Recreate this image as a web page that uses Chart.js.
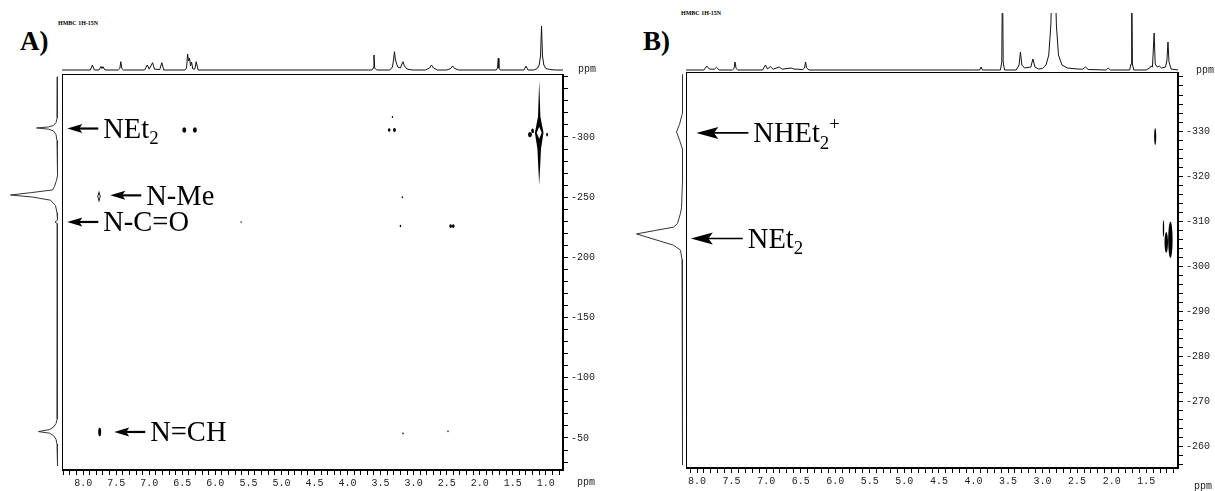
<!DOCTYPE html>
<html>
<head>
<meta charset="utf-8">
<script src="https://cdn.jsdelivr.net/npm/chart.js@4.4.0/dist/chart.umd.min.js"></script>
<style>
  html, body { margin: 0; padding: 0; background: #fff; }
  body { width: 1215px; height: 491px; position: relative; overflow: hidden; font-family: "Liberation Serif", serif; }
  canvas { position: absolute; }
  .panel { position: absolute; font-weight: bold; font-size: 27px; line-height: 1; }
  .hmbc { position: absolute; font-size: 6px; font-weight: bold; line-height: 1; white-space: nowrap; }
  .ppm { position: absolute; font-family: "Liberation Mono", monospace; font-size: 10px; color: #222; line-height: 1; }
</style>
</head>
<body>
<div class="panel" style="left:20px; top:28px;">A)</div>
<div class="hmbc" style="left:58px; top:20px;">HMBC 1H-15N</div>
<div class="panel" style="left:643px; top:28px;">B)</div>
<div class="hmbc" style="left:681px; top:10px;">HMBC 1H-15N</div>

<canvas id="topA" width="501" height="71" style="left:62px; top:0px;"></canvas>
<canvas id="projA" width="62" height="396" style="left:0px; top:74px;"></canvas>
<canvas id="mainA" width="553" height="417" style="left:62px; top:74px;"></canvas>
<div class="ppm" style="left:578px; top:65px;">ppm</div>
<div class="ppm" style="left:577px; top:478px;">ppm</div>

<canvas id="topB" width="492" height="58" style="left:686px; top:13px;"></canvas>
<canvas id="projB" width="66" height="396" style="left:620px; top:72px;"></canvas>
<canvas id="mainB" width="529" height="419" style="left:686px; top:72px;"></canvas>
<div class="ppm" style="left:1196px; top:66px;">ppm</div>
<div class="ppm" style="left:1194px; top:482px;">ppm</div>

<script>
// 1H spectrum on top of A: [ppm, intensity]
const specA = [
  [8.32,0],[7.89,0],[7.86,5],[7.83,0],
  [7.76,0],[7.73,3.5],[7.715,1.5],[7.70,3.3],[7.67,0],
  [7.47,0],[7.445,1.5],[7.43,8.3],[7.415,1.5],[7.39,0],
  [7.07,0],[7.03,5],[7.00,0.8],[6.95,7.3],[6.92,0.8],[6.84,0.5],[6.81,7.3],[6.78,0],
  [6.46,0],[6.435,2],[6.42,16],[6.405,9],[6.39,11.7],[6.375,4],[6.36,8],[6.34,1],[6.31,1],[6.29,8.3],[6.26,0],
  [3.68,0],[3.63,0],[3.61,2],[3.60,15],[3.59,2],[3.56,0],
  [3.36,0],[3.32,3],[3.30,12],[3.29,18.3],[3.275,10],[3.24,3],[3.20,2],[3.17,7],[3.16,8.3],[3.14,4],[3.10,1],[3.02,0],
  [2.82,0],[2.76,2],[2.73,5],[2.70,2],[2.64,0],
  [2.50,0],[2.44,1.5],[2.41,4],[2.38,1.5],[2.32,0],
  [1.75,0],[1.73,2],[1.72,11.7],[1.71,2],[1.69,0],
  [1.33,0],[1.30,4],[1.27,0],
  [1.18,0],[1.13,1.5],[1.10,5],[1.08,14],[1.065,44],[1.05,14],[1.03,5],[1.00,1.5],[0.94,0.5],[0.85,0],[0.74,0]
];
// 1H spectrum on top of B (tall lines run off the top)
const specB = [
  [8.16,0],[7.90,0],[7.86,4],[7.82,0.8],[7.75,0.8],[7.72,2.7],[7.68,0],
  [7.49,0],[7.465,1.5],[7.45,8],[7.435,1.5],[7.41,0],
  [7.05,0],[7.01,5],[6.98,1],[6.94,3.5],[6.90,0.8],[6.81,3],[6.77,0.8],[6.64,2],[6.60,1],
  [6.47,0.5],[6.445,2],[6.43,8],[6.415,2],[6.38,0],
  [4.00,0],[3.91,0],[3.89,3],[3.87,0],[3.70,0],
  [3.61,0],[3.59,8],[3.58,100],[3.57,8],[3.55,0],
  [3.38,0],[3.34,5],[3.32,18],[3.30,5],[3.26,2],[3.17,3],[3.14,11],[3.11,3],[3.06,1],
  [3.00,1.5],[2.95,5],[2.91,15],[2.88,45],[2.86,100],[2.82,100],[2.80,45],[2.77,15],[2.72,5],[2.64,2],[2.50,1],
  [2.42,0.8],[2.38,3],[2.34,0.5],[2.08,0],[2.05,2],[2.02,0],
  [1.74,0],[1.72,6],[1.71,100],[1.70,6],[1.68,0],
  [1.50,0],[1.45,2],[1.43,4],[1.41,3],[1.385,37],[1.37,6],[1.34,3],[1.31,4],[1.28,2],
  [1.22,3],[1.20,10],[1.185,28],[1.17,8],[1.14,1],[1.04,0]
];
// 15N projections on the left: [ppm, intensity]
const projA = [
  [-350,0],[-321,0],[-316,0.5],[-312,1.5],[-309.5,4],[-308.3,9],[-307.5,21],[-306.5,9],[-305,4],[-302,1.5],[-297,0.5],[-293,0],
  [-268,0],[-264,1],[-259,3],[-256,5],[-253.7,27],[-251.8,47],[-250.1,25],[-247.5,7],[-243,2],[-237,0.5],[-233,0],
  [-231,0],[-229.4,2.5],[-228,0],
  [-70,0],[-66,0.5],[-62,1.5],[-59,4],[-57,8],[-55.3,19],[-54,8],[-52,4],[-49,1.5],[-45,0.5],[-40,0],[-27,0]
];
const projB = [
  [-342.5,0],[-334,0],[-331.5,3],[-329.8,6],[-328,3],[-326,0],
  [-319,0],[-313,1],[-311.8,2],[-309.5,5],[-308.7,9],[-307.2,46],[-304.7,9],[-303.6,2],[-301.5,0.5],[-299.8,0],[-256,0]
];

// cross peaks: 1H ppm, 15N ppm, half-width (1H ppm), half-height (15N ppm), shape
const peakXA = [7.76, 6.47, 6.31, 3.37, 3.29, 3.32, 3.17, 3.20, 2.44, 2.40, 5.61, 1.10, 1.24, 1.20, 0.98, 7.75, 3.16, 2.48];
const peakYA = [-250.6, -305.8, -305.8, -305.8, -305.8, -316.6, -250, -226, -226, -226, -229.4, -303.5, -302, -305, -302, -55, -53.8, -55.5];
const peakWA = [0.025, 0.03, 0.03, 0.02, 0.022, 0.008, 0.008, 0.01, 0.02, 0.02, 0.006, 0.065, 0.03, 0.02, 0.015, 0.022, 0.008, 0.008];
const peakHA = [5, 2.2, 2.2, 1.5, 1.6, 0.8, 0.8, 1, 1.6, 1.6, 0.6, 43.5, 2.2, 2, 1.6, 3.5, 0.7, 0.7];
const peakKindA = ['ring','dot','dot','dot','dot','dot','dot','dot','dot','dot','dot','spindle','dot','dot','dot','dot','dot','dot'];

const peakXB = [1.37, 1.25, 1.21, 1.15];
const peakYB = [-328.8, -308.4, -305.3, -305.9];
const peakWB = [0.015, 0.01, 0.025, 0.032];
const peakHB = [1.9, 1.9, 2.3, 4];
const peakKindB = ['dot','dot','dot','dot'];

// assignments
const labelA = ['NEt_2', 'N-Me', 'N-C=O', 'N=CH'];
const labelXA = [8.24, 7.59, 8.24, 7.53];
const labelYA = [-307, -251.5, -229.4, -55];
const labelB = ['NHEt_2^+', 'NEt_2'];
const labelXB = [8.01, 8.09];
const labelYB = [-329.6, -306.2];

// tick labels
const xLabelsA = [8.0, 7.5, 7.0, 6.5, 6.0, 5.5, 5.0, 4.5, 4.0, 3.5, 3.0, 2.5, 2.0, 1.5, 1.0];
const xLabelsB = [8.0, 7.5, 7.0, 6.5, 6.0, 5.5, 5.0, 4.5, 4.0, 3.5, 3.0, 2.5, 2.0, 1.5];
const yLabelsA = [-300, -250, -200, -150, -100, -50];
const yLabelsB = [-330, -320, -310, -300, -290, -280, -270, -260];

const tickFont = { family: 'Liberation Mono', size: 10 };
const base = {
  responsive: false, animation: false, events: [],
  layout: { padding: 0 },
  plugins: { legend: { display: false }, tooltip: { enabled: false } }
};

function lineSet(points, color) {
  return { data: points, showLine: true, pointRadius: 0, borderColor: color || '#111', borderWidth: 1, borderJoinStyle: 'round' };
}

function topChart(id, spec, xmin, xmax, ymax) {
  return new Chart(document.getElementById(id), {
    type: 'scatter',
    data: { datasets: [lineSet(spec.map(p => ({ x: p[0], y: p[1] })))] },
    options: Object.assign({}, base, {
      scales: {
        x: { type: 'linear', display: false, reverse: true, min: xmin, max: xmax },
        y: { type: 'linear', display: false, min: -1, max: ymax }
      }
    })
  });
}

function projChart(id, proj, imin, imax, ymin, ymax) {
  return new Chart(document.getElementById(id), {
    type: 'scatter',
    data: { datasets: [lineSet(proj.map(p => ({ x: p[1], y: p[0] })), '#333')] },
    options: Object.assign({}, base, {
      scales: {
        x: { type: 'linear', display: false, reverse: true, min: imin, max: imax },
        y: { type: 'linear', display: false, reverse: true, min: ymin, max: ymax }
      }
    })
  });
}

function drawRich(ctx, str, x, y, size) {
  const parts = str.match(/_[^_^]|\^[^_^]|[^_^]+/g);
  let cx = x;
  const bl = y + size * 0.33;
  parts.forEach(p => {
    let s = size, dy = 0, t = p;
    if (p[0] === '_') { s = size * 0.66; dy = size * 0.22; t = p.slice(1); }
    else if (p[0] === '^') { s = size * 0.66; dy = -size * 0.42; t = p.slice(1); }
    ctx.font = s + 'px "Liberation Serif"';
    ctx.fillText(t, cx, bl + dy);
    cx += ctx.measureText(t).width;
  });
}

function zeroPad(s) { s.paddingLeft = s.paddingRight = s.paddingTop = s.paddingBottom = 0; }

function mainChart(id, c) {
  const pts = c.px.map((x, i) => ({ x: x, y: c.py[i] }));

  const marks = {
    id: 'marks',
    afterDatasetsDraw(chart) {
      const ctx = chart.ctx, a = chart.chartArea;
      const xs = chart.scales.x, ys = chart.scales.y;
      ctx.save();
      ctx.beginPath(); ctx.rect(a.left, a.top, a.width, a.height); ctx.clip();
      chart.getDatasetMeta(0).data.forEach((el, i) => {
        const cx = el.x, cy = el.y;
        const rx = Math.max(0.7, Math.abs(xs.getPixelForValue(c.px[i] + c.pw[i]) - cx));
        const ry = Math.max(0.7, Math.abs(ys.getPixelForValue(c.py[i] + c.ph[i]) - cy));
        const kind = c.kind[i];
        ctx.fillStyle = '#000';
        if (kind === 'dot') {
          ctx.beginPath(); ctx.ellipse(cx, cy, rx, ry, 0, 0, Math.PI * 2); ctx.fill();
        } else if (kind === 'ring') {
          ctx.beginPath();
          ctx.moveTo(cx, cy - ry); ctx.lineTo(cx + rx, cy); ctx.lineTo(cx, cy + ry); ctx.lineTo(cx - rx, cy);
          ctx.closePath(); ctx.fill();
          ctx.fillStyle = '#fff';
          ctx.beginPath();
          ctx.moveTo(cx, cy - ry * 0.5); ctx.lineTo(cx + rx * 0.45, cy); ctx.lineTo(cx, cy + ry * 0.5); ctx.lineTo(cx - rx * 0.45, cy);
          ctx.closePath(); ctx.fill();
        } else if (kind === 'spindle') {
          ctx.beginPath();
          ctx.moveTo(cx, cy - ry);
          ctx.lineTo(cx + 1.2, cy - 16); ctx.lineTo(cx + rx, cy); ctx.lineTo(cx + 1.8, cy + 16);
          ctx.lineTo(cx, cy + ry);
          ctx.lineTo(cx - 1.8, cy + 16); ctx.lineTo(cx - rx, cy); ctx.lineTo(cx - 1.2, cy - 16);
          ctx.closePath(); ctx.fill();
          ctx.fillStyle = '#fff';
          ctx.beginPath();
          ctx.moveTo(cx, cy - 6); ctx.lineTo(cx + rx - 1.8, cy); ctx.lineTo(cx, cy + 6); ctx.lineTo(cx - rx + 1.8, cy);
          ctx.closePath(); ctx.fill();
        }
      });
      ctx.restore();

      // assignment arrows and names
      ctx.save();
      ctx.fillStyle = '#000'; ctx.strokeStyle = '#000';
      c.labels.forEach((t, i) => {
        const x = xs.getPixelForValue(c.lx[i]), y = ys.getPixelForValue(c.ly[i]);
        const h = c.arrow;
        ctx.beginPath();
        ctx.moveTo(x, y); ctx.lineTo(x + h.head, y - h.half); ctx.lineTo(x + h.head * 0.8, y); ctx.lineTo(x + h.head, y + h.half);
        ctx.closePath(); ctx.fill();
        ctx.lineWidth = h.shaft;
        ctx.beginPath(); ctx.moveTo(x + h.head * 0.75, y); ctx.lineTo(x + h.len, y); ctx.stroke();
        drawRich(ctx, t, x + h.len + 5, y, 28.5);
      });
      ctx.restore();
    },
    afterDraw(chart) {
      const ctx = chart.ctx, a = chart.chartArea;
      ctx.save();
      ctx.strokeStyle = '#000'; ctx.lineWidth = 1;
      ctx.strokeRect(Math.round(a.left) + 0.5, Math.round(a.top) + 0.5, Math.round(a.width) - 1, Math.round(a.height) - 1);
      ctx.restore();
    }
  };

  return new Chart(document.getElementById(id), {
    type: 'scatter',
    data: { datasets: [{ data: pts, pointRadius: 0, pointHoverRadius: 0 }] },
    options: Object.assign({}, base, {
      scales: {
        x: {
          type: 'linear', position: 'bottom', reverse: true, min: c.xmin, max: c.xmax,
          afterFit: s => { s.height = c.xh; zeroPad(s); },
          grid: { drawOnChartArea: false, color: '#000', tickLength: 5 },
          border: { color: '#000' },
          ticks: {
            stepSize: 0.1, autoSkip: false, maxRotation: 0, minRotation: 0, includeBounds: false,
            padding: 2, color: '#222', font: tickFont,
            callback: v => c.xLabels.some(l => Math.abs(l - v) < 1e-6) ? Number(v).toFixed(1) : ''
          }
        },
        y: {
          type: 'linear', position: 'right', reverse: true, min: c.ymin, max: c.ymax,
          afterFit: s => { s.width = c.yw; zeroPad(s); },
          grid: { drawOnChartArea: false, color: '#000', tickLength: 5 },
          border: { color: '#000' },
          ticks: {
            stepSize: c.ystep, autoSkip: false, includeBounds: false,
            padding: 3, color: '#222', font: tickFont,
            callback: v => c.yLabels.some(l => Math.abs(l - v) < 1e-6) ? String(Math.round(v)) : ''
          }
        }
      }
    }),
    plugins: [marks]
  });
}

// panel A
const xA = [0.74, 8.32], yA = [-352.3, -23.4];
topChart('topA', specA, xA[0], xA[1], 70);
projChart('projA', projA, -4.5, 57.5, yA[0], yA[1]);
mainChart('mainA', {
  px: peakXA, py: peakYA, pw: peakWA, ph: peakHA, kind: peakKindA,
  labels: labelA, lx: labelXA, ly: labelYA,
  arrow: { head: 15, half: 4.5, shaft: 2.2, len: 31 },
  xmin: xA[0], xmax: xA[1], ymin: yA[0], ymax: yA[1],
  xLabels: xLabelsA, yLabels: yLabelsA, ystep: 10, xh: 21, yw: 52
});

// panel B
const xB = [1.04, 8.16], yB = [-343.1, -255.3];
topChart('topB', specB, xB[0], xB[1], 57);
projChart('projB', projB, -3.5, 62.5, yB[0], yB[1]);
mainChart('mainB', {
  px: peakXB, py: peakYB, pw: peakWB, ph: peakHB, kind: peakKindB,
  labels: labelB, lx: labelXB, ly: labelYB,
  arrow: { head: 22, half: 6, shaft: 1.6, len: 52 },
  xmin: xB[0], xmax: xB[1], ymin: yB[0], ymax: yB[1],
  xLabels: xLabelsB, yLabels: yLabelsB, ystep: 2, xh: 23, yw: 37
});
</script>
</body>
</html>
